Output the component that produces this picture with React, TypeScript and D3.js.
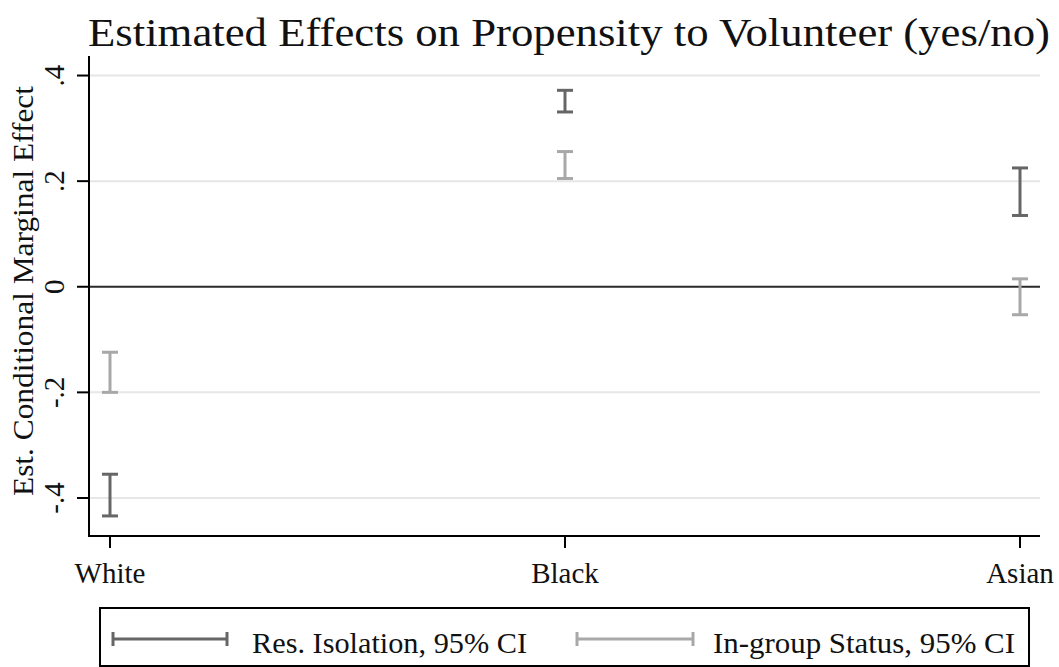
import React from "react";
import * as d3 from "d3";

const categories = ["White", "Black", "Asian"];
const isolationLow = [-0.434, 0.331, 0.135];
const isolationHigh = [-0.355, 0.372, 0.225];
const statusLow = [-0.2, 0.205, -0.053];
const statusHigh = [-0.124, 0.256, 0.015];
const yTicks = [-0.4, -0.2, 0, 0.2, 0.4];
const yTickLabels = ["-.4", "-.2", "0", ".2", ".4"];
const seriesNames = ["Res. Isolation, 95% CI", "In-group Status, 95% CI"];
const seriesColors = ["#666666", "#a8a8a8"];

const W = 1059;
const H = 667;
const FONT = "'Liberation Serif', 'DejaVu Serif', serif";

export default function App() {
  const left = 89, right = 1040, top = 56, bottom = 536;
  const y = d3.scaleLinear().domain([-0.472, 0.437]).range([bottom, top]);
  const x = d3.scalePoint<string>().domain(categories).range([110, 1020]);
  const cap = 8;

  const series = [
    { low: isolationLow, high: isolationHigh, color: seriesColors[0] },
    { low: statusLow, high: statusHigh, color: seriesColors[1] },
  ];

  return (
    <svg width={W} height={H} style={{ position: "absolute", left: 0, top: 0, background: "#fff" }} fontFamily={FONT}>
      <rect x={0} y={0} width={W} height={H} fill="#fff" />
      <text x={88} y={46} fontSize={40} fill="#111" textLength={962} lengthAdjust="spacingAndGlyphs">
        Estimated Effects on Propensity to Volunteer (yes/no)
      </text>
      {yTicks.filter((t) => t !== 0).map((t) => (
        <line key={"g" + t} x1={left} x2={right} y1={y(t)} y2={y(t)} stroke="#e6e6e6" strokeWidth={2} />
      ))}
      <line x1={left} x2={right} y1={y(0)} y2={y(0)} stroke="#2a2a2a" strokeWidth={2.2} />
      {series.map((s, si) =>
        categories.map((c, i) => {
          const cx = x(c)!;
          const y1 = y(s.high[i]);
          const y2 = y(s.low[i]);
          return (
            <g key={si + c} stroke={s.color} strokeWidth={3}>
              <line x1={cx} x2={cx} y1={y1} y2={y2} />
              <line x1={cx - cap} x2={cx + cap} y1={y1} y2={y1} />
              <line x1={cx - cap} x2={cx + cap} y1={y2} y2={y2} />
            </g>
          );
        })
      )}
      <line x1={left} x2={left} y1={top} y2={bottom + 1} stroke="#000" strokeWidth={2} />
      <line x1={left - 1} x2={right} y1={bottom} y2={bottom} stroke="#000" strokeWidth={2} />
      {yTicks.map((t, i) => (
        <g key={"yt" + t}>
          <line x1={left - 12} x2={left} y1={y(t)} y2={y(t)} stroke="#000" strokeWidth={2} />
          <text transform={`translate(64,${y(t)}) rotate(-90)`} textAnchor="middle" fontSize={29} fill="#111">
            {yTickLabels[i]}
          </text>
        </g>
      ))}
      {categories.map((c, i) => (
        <g key={"xt" + c}>
          <line x1={x(c)} x2={x(c)} y1={bottom} y2={bottom + 12} stroke="#000" strokeWidth={2} />
          <text x={x(c)} y={583} textAnchor="middle" fontSize={29} fill="#111">
            {c}
          </text>
        </g>
      ))}
      <text transform={`translate(33,291) rotate(-90)`} textAnchor="middle" fontSize={29} fill="#111" textLength={410} lengthAdjust="spacingAndGlyphs">
        Est. Conditional Marginal Effect
      </text>
      <rect x={100} y={608} width={929} height={58} fill="#fff" stroke="#000" strokeWidth={2} />
      {[
        { x1: 113, x2: 227, tx: 252, tl: 275 },
        { x1: 577, x2: 693, tx: 713, tl: 302 },
      ].map((l, i) => (
        <g key={"lg" + i}>
          <g stroke={seriesColors[i]} strokeWidth={3}>
            <line x1={l.x1} x2={l.x2} y1={639} y2={639} />
            <line x1={l.x1} x2={l.x1} y1={632} y2={646} />
            <line x1={l.x2} x2={l.x2} y1={632} y2={646} />
          </g>
          <text x={l.tx} y={653} fontSize={29} fill="#111" textLength={l.tl} lengthAdjust="spacingAndGlyphs">
            {seriesNames[i]}
          </text>
        </g>
      ))}
    </svg>
  );
}
